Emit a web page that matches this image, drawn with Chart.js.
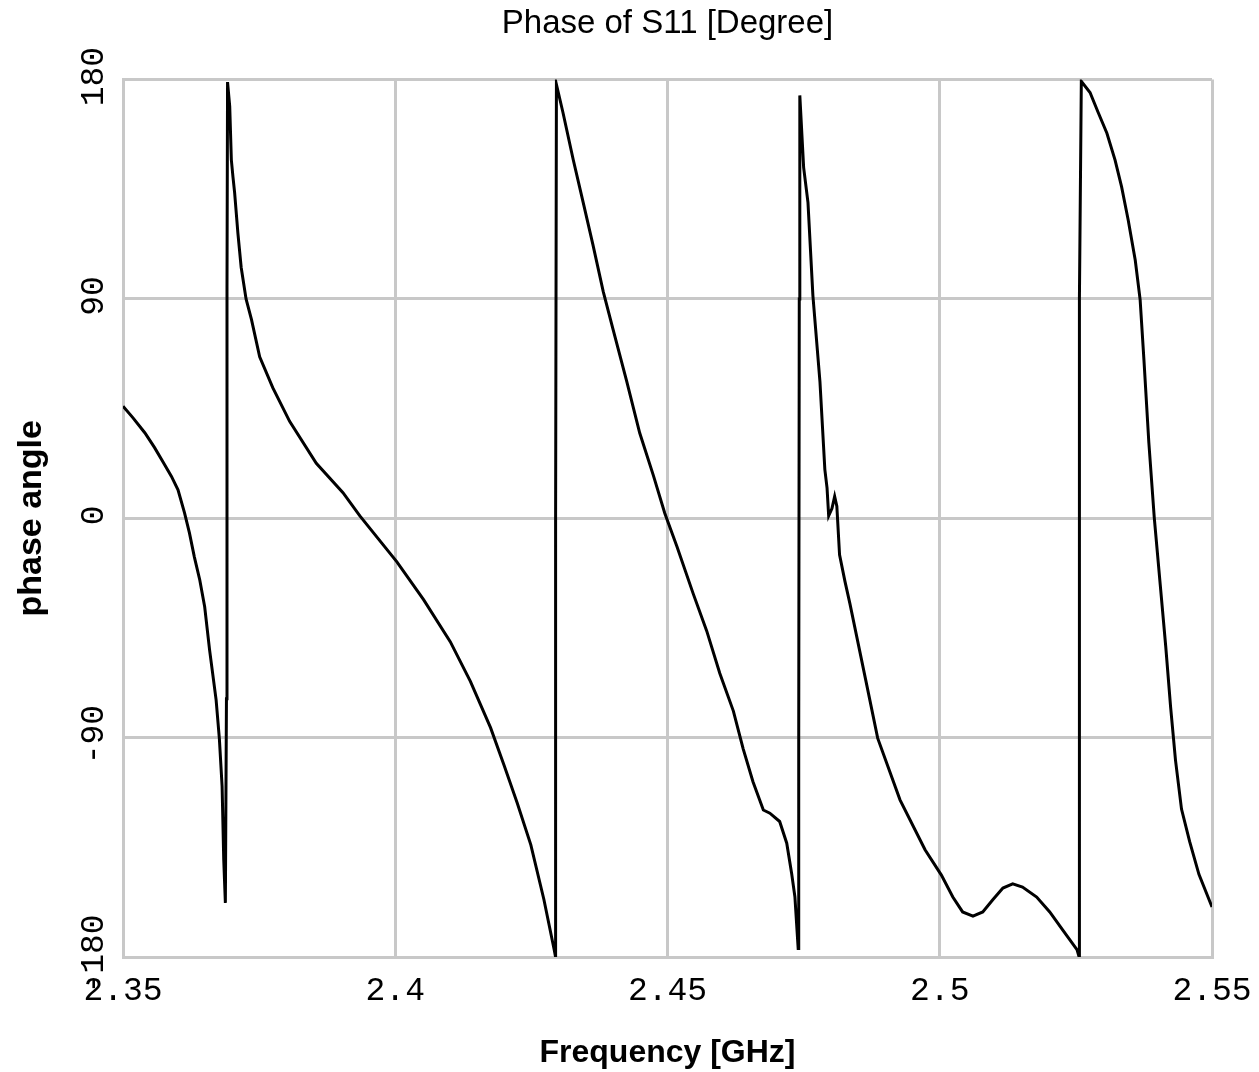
<!DOCTYPE html>
<html>
<head>
<meta charset="utf-8">
<title>Phase of S11 [Degree]</title>
<script src="https://cdn.jsdelivr.net/npm/chart.js@4.4.0/dist/chart.umd.min.js"></script>
<style>
  html, body { margin: 0; padding: 0; background: #fff; }
  #wrap { width: 1259px; height: 1072px; }
</style>
</head>
<body>
<div id="wrap"><canvas id="chart" width="1259" height="1072"></canvas></div>
<script>
// frequency in GHz
var freqGHz = [
  2.3500, 2.3518, 2.3540, 2.3558, 2.3573, 2.3589, 2.3601, 2.3613, 2.3622, 2.3631,
  2.3641, 2.3650, 2.3659, 2.3671, 2.3677, 2.3682, 2.3685, 2.3688, 2.3690, 2.3691,
  2.3692, 2.3696, 2.3699, 2.3702, 2.3705, 2.3711, 2.3717, 2.3726, 2.3736, 2.3751,
  2.3775, 2.3806, 2.3855, 2.3904, 2.3935, 2.4003, 2.4052, 2.4101, 2.4138, 2.4175,
  2.4200, 2.4224, 2.4249, 2.4273, 2.4292, 2.4294, 2.4294, 2.4295, 2.4296,
  2.4308, 2.4327, 2.4345, 2.4363, 2.4382, 2.4400, 2.4425, 2.4449, 2.4474, 2.4495,
  2.4517, 2.4547, 2.4572, 2.4596, 2.4621, 2.4639, 2.4657, 2.4676, 2.4688, 2.4706,
  2.4719, 2.4728, 2.4734, 2.4740, 2.4741, 2.4742, 2.4743,
  2.4750, 2.4758, 2.4767, 2.4780, 2.4789, 2.4793, 2.4796, 2.4802, 2.4807, 2.4811,
  2.4816, 2.4826, 2.4835, 2.4864, 2.4886, 2.4927, 2.4973, 2.5003, 2.5024, 2.5042,
  2.5061, 2.5079, 2.5097, 2.5116, 2.5134, 2.5152, 2.5178, 2.5202, 2.5226, 2.5252,
  2.5256, 2.5256, 2.5257, 2.5260,
  2.5276, 2.5291, 2.5307, 2.5322, 2.5334, 2.5346, 2.5359, 2.5368, 2.5375, 2.5384,
  2.5394, 2.5405, 2.5415, 2.5424, 2.5433, 2.5444, 2.5459, 2.5476, 2.5500
];

// phase of S11 in degrees
var phaseDeg = [
  46, 41.3, 35.1, 29, 23.3, 17.2, 11.7, 2.2, -6, -15.8,
  -25.3, -36.3, -54, -74.5, -90.5, -110, -140, -157.8, -74, 95,
  179, 169, 147, 140, 133.6, 117, 103, 90, 81.5, 66.3,
  53.6, 39.8, 22.6, 10.5, 1.0, -17.9, -33.4, -50.6, -66.9, -85.9,
  -101.4, -116.8, -134, -156.4, -177.1, -179.5, 0, 0, 178,
  166.5, 147, 129.7, 112.3, 93, 77.5, 56.3, 35, 17.6, 2.1,
  -11.4, -30.8, -46.2, -63.6, -79.1, -94.6, -108.1, -119.7, -121, -124.4,
  -133.3, -145.7, -155.3, -176.5, -90, 90, 173.5,
  144, 129.5, 91.5, 56, 20, 12.5, 1, 4, 9, 5,
  -15, -26, -35, -66.3, -90.2, -115.5, -136, -146.4, -155.4, -161.5,
  -163.2, -161.5, -156.6, -151.7, -150, -151.3, -155.4, -161.5, -169, -177,
  -180, 90, 90, 179.3,
  174.7, 166.5, 158, 147, 136, 122.5, 106, 89.7, 65, 31.1,
  0.2, -27.4, -52.5, -77.5, -99.3, -119.3, -132.7, -146.1, -159.5
];

var xTicks = [2.35, 2.4, 2.45, 2.5, 2.55];
var yTicks = [-180, -90, 0, 90, 180];

var gridColor = '#c8c8c8';
var monoFont = '"Liberation Mono", "Courier New", monospace';
var sansFont = '"Liberation Sans", Arial, sans-serif';

var points = freqGHz.map(function (f, i) { return { x: f, y: phaseDeg[i] }; });

// y tick labels are drawn rotated, centred on their tick
var yTickLabels = {
  id: 'yTickLabels',
  afterDraw: function (chart) {
    var yScale = chart.scales.y;
    var ctx = chart.ctx;
    ctx.save();
    ctx.font = '33px ' + monoFont;
    ctx.fillStyle = '#000';
    ctx.textAlign = 'center';
    ctx.textBaseline = 'alphabetic';
    yScale.ticks.forEach(function (t) {
      var py = yScale.getPixelForValue(t.value);
      ctx.save();
      ctx.translate(yScale.right - 20, py - 3);
      ctx.rotate(-Math.PI / 2);
      ctx.fillText(String(t.value), 0, 0);
      ctx.restore();
    });
    ctx.restore();
  }
};

var ctx = document.getElementById('chart').getContext('2d');
var chart = new Chart(ctx, {
  type: 'line',
  data: {
    datasets: [{
      label: 'S11 phase',
      data: points,
      borderColor: '#000',
      borderWidth: 3,
      pointRadius: 0,
      tension: 0,
      fill: false
    }]
  },
  options: {
    responsive: false,
    animation: false,
    layout: { padding: { left: 0, right: 47, top: 0, bottom: 0 } },
    plugins: {
      legend: { display: false },
      tooltip: { enabled: false },
      title: {
        display: true,
        fullSize: false,
        text: 'Phase of S11 [Degree]',
        color: '#000',
        font: { family: sansFont, size: 33, weight: 'normal' },
        padding: { top: 4, bottom: 36 }
      }
    },
    scales: {
      x: {
        type: 'linear',
        min: 2.35,
        max: 2.55,
        afterBuildTicks: function (scale) {
          scale.ticks = xTicks.map(function (v) { return { value: v }; });
        },
        afterFit: function (scale) {
          scale.height = 115;
          scale.paddingLeft = 0;
          scale.paddingRight = 0;
        },
        ticks: {
          color: '#000',
          font: { family: monoFont, size: 33 },
          padding: 14,
          maxRotation: 0,
          autoSkip: false,
          callback: function (v) { return String(v); }
        },
        grid: { color: gridColor, lineWidth: 3, drawTicks: false },
        border: { display: true, color: gridColor, width: 3 },
        title: {
          display: true,
          text: 'Frequency [GHz]',
          color: '#000',
          font: { family: sansFont, size: 32, weight: 'bold' },
          padding: { top: 0, bottom: 0 }
        }
      },
      y: {
        type: 'linear',
        min: -180,
        max: 180,
        afterBuildTicks: function (scale) {
          scale.ticks = yTicks.map(function (v) { return { value: v }; });
        },
        afterFit: function (scale) { scale.width = 123; },
        ticks: { display: false },
        grid: { color: gridColor, lineWidth: 3, drawTicks: false },
        border: { display: true, color: gridColor, width: 3 },
        title: {
          display: true,
          text: 'phase angle',
          color: '#000',
          font: { family: sansFont, size: 34, weight: 'bold' },
          padding: { top: 11, bottom: 0 }
        }
      }
    }
  },
  plugins: [yTickLabels]
});
</script>
</body>
</html>
